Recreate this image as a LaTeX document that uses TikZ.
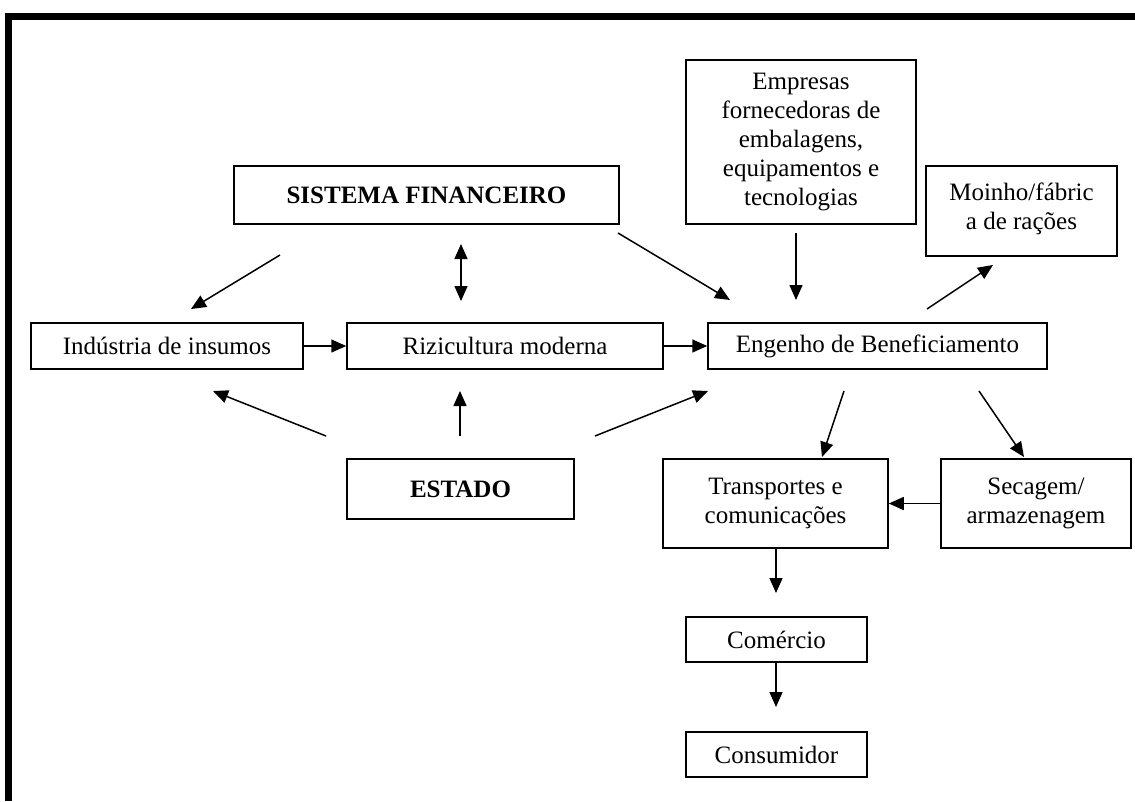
\documentclass[tikz,border=0pt]{standalone}
\usepackage{fontspec}
\setmainfont{Liberation Serif}
\usetikzlibrary{arrows.meta}
\tikzset{
  boxnode/.style={draw, line width=1.5pt, inner sep=0pt, align=center, font=\fontsize{25}{29}\selectfont},
  arr/.style={line width=1.5pt, -{Triangle[length=15pt,width=13pt]}},
  darr/.style={line width=1.5pt, {Triangle[length=15pt,width=13pt]}-{Triangle[length=15pt,width=13pt]}}
}
\begin{document}
\begin{tikzpicture}[x=1pt,y=-1pt]
\useasboundingbox (0,0) rectangle (1135,801);
% frame
\fill (5,13) rectangle (1135,20);
\fill (5,13) rectangle (12,801);
% nodes
\node[boxnode, minimum width=230pt, minimum height=164pt] (emp) at (801,142) {Empresas\\fornecedoras de\\embalagens,\\equipamentos e\\tecnologias};
\node[boxnode, minimum width=385pt, minimum height=58pt] (sf) at (426.5,195) {\textbf{SISTEMA FINANCEIRO}};
\node[boxnode, minimum width=191pt, minimum height=90pt] (moi) at (1021.5,211) {Moinho/fábric\\a de rações\\[-19pt]};
\node[boxnode, minimum width=272pt, minimum height=46pt] (ind) at (167,346) {Indústria de insumos};
\node[boxnode, minimum width=316pt, minimum height=46pt] (riz) at (505,346) {Rizicultura moderna};
\node[boxnode, minimum width=339pt, minimum height=46pt] (eng) at (877.5,346) {Engenho de Beneficiamento};
\node[boxnode, minimum width=227pt, minimum height=60pt] (est) at (460.5,489) {\textbf{ESTADO}};
\node[boxnode, minimum width=225pt, minimum height=89pt] (tra) at (775.5,503.5) {Transportes e\\comunicações};
\node[boxnode, minimum width=190pt, minimum height=89pt] (sec) at (1036,503.5) {Secagem/\\armazenagem};
\node[boxnode, minimum width=181pt, minimum height=45pt] (com) at (776.5,639.5) {Comércio};
\node[boxnode, minimum width=181pt, minimum height=45pt] (con) at (776.5,754.5) {Consumidor};
% free connector ends
\coordinate (sfA) at (280,255);  \coordinate (indA) at (191,309);
\coordinate (sfB) at (461,244);  \coordinate (rizB) at (461,301);
\coordinate (sfC) at (618,233);  \coordinate (engC) at (730,300);
\coordinate (empD) at (796,233); \coordinate (engD) at (796,300);
\coordinate (engE) at (927,309); \coordinate (moiE) at (993,265);
\coordinate (estF) at (326,436); \coordinate (indF) at (213,391);
\coordinate (estG) at (460,436); \coordinate (rizG) at (460,391);
\coordinate (estH) at (595,436); \coordinate (engH) at (708,391);
\coordinate (engI) at (844,391); \coordinate (traI) at (822,457);
\coordinate (engJ) at (979,391); \coordinate (secJ) at (1024,457);
\coordinate (comK) at (776,593);
\coordinate (conL) at (776,707);
% connectors
\draw[arr] (sfA) -- (indA);
\draw[darr] (sfB) -- (rizB);
\draw[arr] (sfC) -- (engC);
\draw[arr] (empD) -- (engD);
\draw[arr] (engE) -- (moiE);
\draw[arr] (ind.east) -- (riz.west);
\draw[arr] (riz.east) -- (eng.west);
\draw[arr] (estF) -- (indF);
\draw[arr] (estG) -- (rizG);
\draw[arr] (estH) -- (engH);
\draw[arr] (engI) -- (traI);
\draw[arr] (engJ) -- (secJ);
\draw[arr] (sec.west) -- (tra.east);
\draw[arr] (tra.south -| comK) -- (comK);
\draw[arr] (com.south -| conL) -- (conL);
\end{tikzpicture}
\end{document}
